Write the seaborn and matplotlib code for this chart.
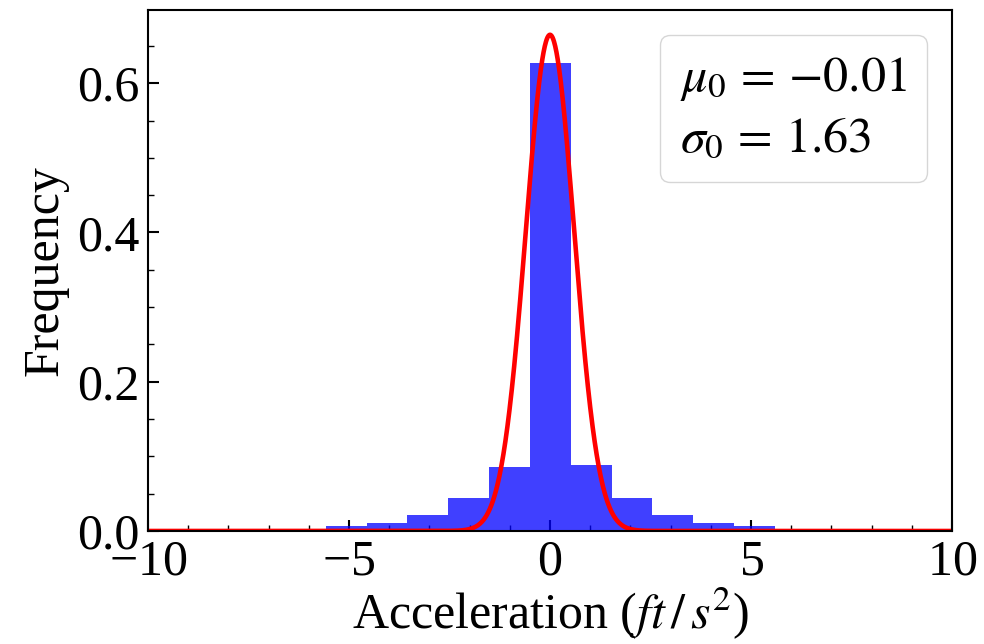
import numpy as np
import matplotlib
matplotlib.use("Agg")
import matplotlib.pyplot as plt
import matplotlib.patches as mpatches
from matplotlib.ticker import MultipleLocator, FormatStrFormatter
import seaborn as sns

# Histogram data
bin_edges = [-5.58, -4.56, -3.55, -2.53, -1.52, -0.50, 0.51, 1.53, 2.54, 3.56, 4.57, 5.59]
bin_heights = [0.0067, 0.0107, 0.0214, 0.0437, 0.086, 0.627, 0.088, 0.0437, 0.0214, 0.0103, 0.0065]

# Fitted normal curve drawn in red
curve_mu = 0.0
curve_sigma = 0.60

# Legend annotation
label_mu = r"$\mu_0 \,=\, {-}0.01$"
label_sigma = r"$\sigma_0 \,=\, 1.63$"

sns.set_style("ticks", rc={"axes.edgecolor": "black", "text.color": "black",
                           "axes.labelcolor": "black", "xtick.color": "black",
                           "ytick.color": "black"})
plt.rcParams["font.family"] = ["serif"]
plt.rcParams["font.serif"] = ["Liberation Serif", "STIXGeneral", "DejaVu Serif"]
plt.rcParams["mathtext.fontset"] = "stix"
plt.rcParams["axes.formatter.use_mathtext"] = True

fig = plt.figure(figsize=(9.84, 6.44), dpi=100)
ax = fig.add_axes([0.1504, 0.1755, 0.8171, 0.809])

centers = [(bin_edges[i] + bin_edges[i + 1]) / 2 for i in range(len(bin_heights))]
sns.histplot(x=centers, weights=bin_heights, bins=bin_edges, stat="count",
             color="blue", alpha=0.75, edgecolor="none", linewidth=0, ax=ax)

xs = np.linspace(-10, 10, 2001)
ys = np.exp(-0.5 * ((xs - curve_mu) / curve_sigma) ** 2) / (curve_sigma * np.sqrt(2 * np.pi))
sns.lineplot(x=xs, y=ys, color="red", linewidth=3.3, ax=ax)

ax.set_xlim(-10, 10)
ax.set_ylim(0, ys.max() * 1.05)
ax.xaxis.set_major_locator(MultipleLocator(5))
ax.xaxis.set_minor_locator(MultipleLocator(1))
ax.yaxis.set_major_locator(MultipleLocator(0.2))
ax.yaxis.set_minor_locator(MultipleLocator(0.05))
ax.yaxis.set_major_formatter(FormatStrFormatter("%.1f"))
ax.tick_params(which="both", direction="in", top=False, right=False,
               bottom=True, left=True, labelsize=36, colors="black")
ax.tick_params(which="major", length=8, width=1.5, pad=6)
ax.tick_params(which="minor", length=4, width=1.0)
for s in ax.spines.values():
    s.set_linewidth(1.5)
    s.set_color("black")

ax.set_xlabel(r"Acceleration ($ft\,/\,s^2$)", fontsize=36, labelpad=0)
ax.set_ylabel("Frequency", fontsize=36, labelpad=6)

h1 = mpatches.Patch(color="none", label=label_mu)
h2 = mpatches.Patch(color="none", label=label_sigma)
ax.legend(handles=[h1, h2], loc="upper right", fontsize=36, handlelength=0,
          handletextpad=0, frameon=True, borderpad=0.4, labelspacing=0.25,
          borderaxespad=0.5)

fig.savefig("out.png", dpi=100)
